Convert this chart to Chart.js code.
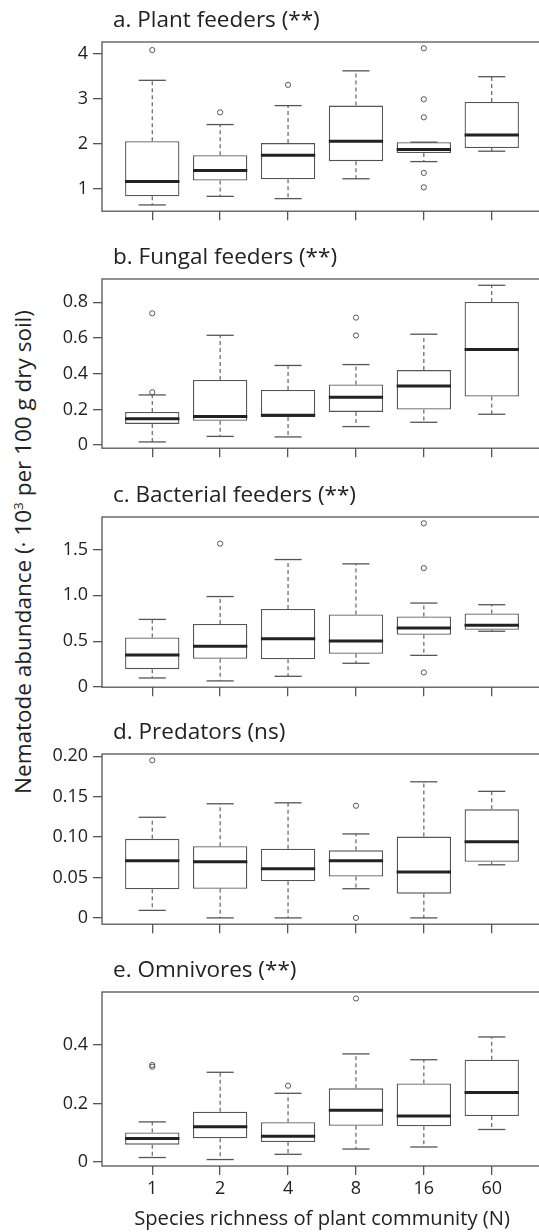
<!DOCTYPE html>
<html>
<head>
<meta charset="utf-8">
<script src="https://cdn.jsdelivr.net/npm/chart.js@4.4.1/dist/chart.umd.min.js"></script>
<style>
  html, body { margin: 0; padding: 0; background: #fff; overflow: hidden; }
  body { width: 539px; height: 1232px; position: relative; font-family: "Open Sans", sans-serif; }
  .panel { position: absolute; left: 0; width: 560px; }
  #ytitle {
    position: absolute; left: 22px; top: 552px;
    transform: translate(-50%, -50%) rotate(-90deg);
    white-space: nowrap; font-size: 22.5px; color: #222;
  }
  #ytitle sup { font-size: 13.5px; vertical-align: 8px; line-height: 0; }
</style>
</head>
<body>
<div id="ytitle">Nematode abundance (· 10<sup>3</sup> per 100 g dry soil)</div>

<script>
// species richness groups
const categories = ["1", "2", "4", "8", "16", "60"];

// a. Plant feeders
const plantLow = [0.65, 0.84, 0.79, 1.23, 1.61, 1.84];
const plantQ1 = [0.84, 1.19, 1.22, 1.62, 1.80, 1.91];
const plantMedian = [1.17, 1.41, 1.75, 2.06, 1.88, 2.20];
const plantQ3 = [2.06, 1.75, 2.02, 2.85, 2.04, 2.93];
const plantHigh = [3.41, 2.43, 2.85, 3.62, 2.04, 3.49];
const plantOutliers = [[4.08], [2.70], [3.31], [], [4.12, 2.99, 2.59, 1.36, 1.04], []];
const plantTicks = [1, 2, 3, 4];
const plantTickLabels = ["1", "2", "3", "4"];

// b. Fungal feeders
const fungalLow = [0.018, 0.049, 0.046, 0.104, 0.128, 0.173];
const fungalQ1 = [0.119, 0.137, 0.157, 0.186, 0.199, 0.272];
const fungalMedian = [0.148, 0.161, 0.167, 0.268, 0.331, 0.535];
const fungalQ3 = [0.186, 0.365, 0.309, 0.340, 0.420, 0.802];
const fungalHigh = [0.281, 0.615, 0.446, 0.451, 0.621, 0.895];
const fungalOutliers = [[0.738, 0.296], [], [], [0.714, 0.614], [], []];
const fungalTicks = [0, 0.2, 0.4, 0.6, 0.8];
const fungalTickLabels = ["0", "0.2", "0.4", "0.6", "0.8"];

// c. Bacterial feeders
const bactLow = [0.100, 0.068, 0.118, 0.260, 0.346, 0.609];
const bactQ1 = [0.196, 0.310, 0.303, 0.363, 0.570, 0.624];
const bactMedian = [0.349, 0.445, 0.527, 0.502, 0.645, 0.673];
const bactQ3 = [0.542, 0.688, 0.852, 0.791, 0.770, 0.802];
const bactHigh = [0.738, 0.987, 1.390, 1.343, 0.916, 0.898];
const bactOutliers = [[], [1.564], [], [], [1.785, 1.297, 0.160], []];
const bactTicks = [0, 0.5, 1.0, 1.5];
const bactTickLabels = ["0", "0.5", "1.0", "1.5"];

// d. Predators
const predLow = [0.0093, 0, 0, 0.0361, 0, 0.0657];
const predQ1 = [0.0353, 0.0361, 0.0454, 0.0511, 0.0300, 0.0694];
const predMedian = [0.0706, 0.0694, 0.0609, 0.0706, 0.0568, 0.0941];
const predQ3 = [0.0978, 0.0888, 0.0856, 0.0836, 0.1006, 0.1343];
const predHigh = [0.1245, 0.1412, 0.1424, 0.1039, 0.1684, 0.1566];
const predOutliers = [[0.195], [], [], [0.1388, 0], [], []];
const predTicks = [0, 0.05, 0.10, 0.15, 0.20];
const predTickLabels = ["0", "0.05", "0.10", "0.15", "0.20"];

// e. Omnivores
const omniLow = [0.015, 0.008, 0.026, 0.044, 0.051, 0.111];
const omniQ1 = [0.059, 0.081, 0.068, 0.124, 0.122, 0.157];
const omniMedian = [0.080, 0.120, 0.088, 0.177, 0.157, 0.238];
const omniQ3 = [0.101, 0.172, 0.136, 0.252, 0.269, 0.350];
const omniHigh = [0.137, 0.307, 0.235, 0.370, 0.350, 0.428];
const omniOutliers = [[0.332, 0.326], [], [0.261], [0.560], [], []];
const omniTicks = [0, 0.2, 0.4];
const omniTickLabels = ["0", "0.2", "0.4"];

const xTitle = "Species richness of plant community (N)";

const panels = [
  { title: "a. Plant feeders (**)", low: plantLow, q1: plantQ1, med: plantMedian, q3: plantQ3, high: plantHigh, out: plantOutliers, ticks: plantTicks, labels: plantTickLabels },
  { title: "b. Fungal feeders (**)", low: fungalLow, q1: fungalQ1, med: fungalMedian, q3: fungalQ3, high: fungalHigh, out: fungalOutliers, ticks: fungalTicks, labels: fungalTickLabels },
  { title: "c. Bacterial feeders (**)", low: bactLow, q1: bactQ1, med: bactMedian, q3: bactQ3, high: bactHigh, out: bactOutliers, ticks: bactTicks, labels: bactTickLabels },
  { title: "d. Predators (ns)", low: predLow, q1: predQ1, med: predMedian, q3: predQ3, high: predHigh, out: predOutliers, ticks: predTicks, labels: predTickLabels },
  { title: "e. Omnivores (**)", low: omniLow, q1: omniQ1, med: omniMedian, q3: omniQ3, high: omniHigh, out: omniOutliers, ticks: omniTicks, labels: omniTickLabels }
];

// layout: top of each plot frame and its height
const frameTops = [42, 279, 517, 754, 992];
const frameHeights = [173, 173, 174, 174, 174];
const TITLE_ROOM = 42;
const LINE = "#555";
const TEXT = "#222";

function makeBoxPlugin(p) {
  return {
    id: "boxParts",
    afterDatasetsDraw(chart) {
      const ctx = chart.ctx;
      const xs = chart.scales.x, ys = chart.scales.y;
      const bars = chart.getDatasetMeta(0).data;
      ctx.save();
      const line = (x1, y1, x2, y2) => { ctx.beginPath(); ctx.moveTo(x1, y1); ctx.lineTo(x2, y2); ctx.stroke(); };
      categories.forEach((c, i) => {
        const cx = xs.getPixelForValue(i + 1);
        const half = bars[i].width / 2;
        const cap = half / 2;
        ctx.strokeStyle = LINE;
        ctx.lineWidth = 1.1;
        ctx.setLineDash([4, 3]);
        line(cx, ys.getPixelForValue(p.q3[i]), cx, ys.getPixelForValue(p.high[i]));
        line(cx, ys.getPixelForValue(p.q1[i]), cx, ys.getPixelForValue(p.low[i]));
        ctx.setLineDash([]);
        ctx.lineWidth = 1.3;
        line(cx - cap, ys.getPixelForValue(p.high[i]), cx + cap, ys.getPixelForValue(p.high[i]));
        line(cx - cap, ys.getPixelForValue(p.low[i]), cx + cap, ys.getPixelForValue(p.low[i]));
        ctx.strokeStyle = "#222";
        ctx.lineWidth = 3;
        const my = ys.getPixelForValue(p.med[i]);
        line(cx - half, my, cx + half, my);
      });
      // frame round the plot
      const a = chart.chartArea;
      ctx.strokeStyle = LINE;
      ctx.lineWidth = 1.3;
      ctx.strokeRect(a.left, a.top, a.right - a.left, a.bottom - a.top);
      // panel title
      ctx.fillStyle = TEXT;
      ctx.font = '22.5px "Open Sans"';
      ctx.textBaseline = "middle";
      ctx.textAlign = "left";
      ctx.fillText(p.title, a.left + 11, a.top - 21);
      ctx.restore();
    }
  };
}

panels.forEach((p, k) => {
  const last = k === panels.length - 1;
  const xHeight = last ? 66 : 12;
  const div = document.createElement("div");
  div.className = "panel";
  div.style.top = (frameTops[k] - TITLE_ROOM) + "px";
  div.style.height = (TITLE_ROOM + frameHeights[k] + xHeight) + "px";
  const canvas = document.createElement("canvas");
  div.appendChild(canvas);
  document.body.appendChild(div);

  // y range as in R: data range stretched by 4% each side
  const all = p.low.concat(p.high, p.out.flat());
  const lo = Math.min(...all), hi = Math.max(...all);
  const pad = (hi - lo) * 0.04;

  const outlierPoints = [];
  p.out.forEach((vals, i) => vals.forEach(v => outlierPoints.push({ x: i + 1, y: v })));

  new Chart(canvas, {
    type: "bar",
    data: {
      datasets: [
        {
          data: categories.map((c, i) => ({ x: i + 1, y: [p.q1[i], p.q3[i]] })),
          backgroundColor: "#fff",
          borderColor: LINE,
          borderWidth: 1.3,
          borderSkipped: false,
          categoryPercentage: 0.8,
          barPercentage: 1.0
        },
        {
          type: "scatter",
          data: outlierPoints,
          pointStyle: "circle",
          pointRadius: 2.6,
          pointBorderWidth: 1,
          pointBorderColor: LINE,
          pointBackgroundColor: "rgba(255,255,255,0)"
        }
      ]
    },
    options: {
      responsive: true,
      maintainAspectRatio: false,
      animation: false,
      layout: { padding: { top: TITLE_ROOM, right: 18, left: 0, bottom: 0 } },
      plugins: { legend: { display: false }, tooltip: { enabled: false } },
      scales: {
        x: {
          type: "linear",
          offset: false,
          min: 0.26,
          max: 6.74,
          afterBuildTicks: s => { s.ticks = categories.map((c, i) => ({ value: i + 1 })); },
          afterFit: s => { s.height = xHeight; },
          border: { display: false },
          grid: { display: true, offset: false, drawOnChartArea: false, drawTicks: true, tickLength: 9, color: LINE, lineWidth: 1.3 },
          ticks: {
            display: last,
            padding: 3,
            color: TEXT,
            font: { family: "Open Sans", size: 18 },
            callback: (v, i) => categories[i]
          },
          title: {
            display: last,
            text: xTitle,
            color: TEXT,
            font: { family: "Open Sans", size: 20.2 },
            padding: { top: 0, bottom: 1 }
          }
        },
        y: {
          min: lo - pad,
          max: hi + pad,
          afterBuildTicks: s => { s.ticks = p.ticks.map(v => ({ value: v })); },
          afterFit: s => { s.width = 102; },
          border: { display: false },
          grid: { display: true, drawOnChartArea: false, drawTicks: true, tickLength: 9, color: LINE, lineWidth: 1.3 },
          ticks: {
            padding: 5,
            color: TEXT,
            font: { family: "Open Sans", size: 18 },
            callback: (v, i) => p.labels[i]
          }
        }
      }
    },
    plugins: [makeBoxPlugin(p)]
  });
});
</script>
</body>
</html>
